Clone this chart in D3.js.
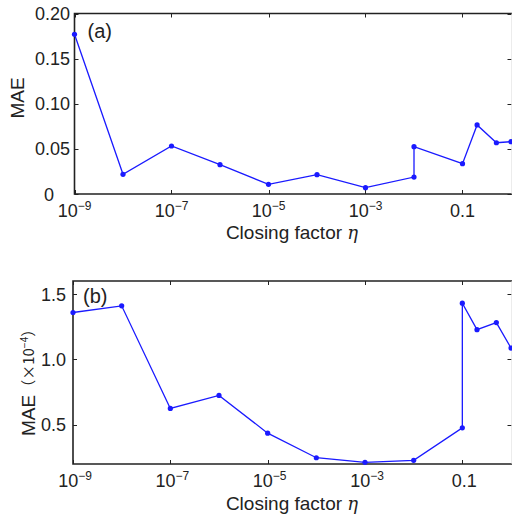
<!DOCTYPE html>
<html>
<head>
<meta charset="utf-8">
<script src="https://cdn.jsdelivr.net/npm/d3@7"></script>
<style>
  html, body { margin: 0; padding: 0; background: #fff; }
  svg { display: block; }
  text { font-family: "Liberation Sans", Arial, sans-serif; fill: #222; }
</style>
</head>
<body>
<svg id="chart" width="512" height="520"></svg>
<script>
// ---- Data ----
const etaA = [1e-9, 1e-8, 1e-7, 1e-6, 1e-5, 1e-4, 1e-3, 1e-2, 1e-2, 0.1, 0.2, 0.5, 1];
const maeA = [0.177, 0.0218, 0.0532, 0.0325, 0.0107, 0.0214, 0.007, 0.0188, 0.0524, 0.0336, 0.0765, 0.0568, 0.058];

const etaB = [1e-9, 1e-8, 1e-7, 1e-6, 1e-5, 1e-4, 1e-3, 1e-2, 0.1, 0.1, 0.2, 0.5, 1];
const maeB = [1.359, 1.41, 0.625, 0.725, 0.436, 0.248, 0.213, 0.228, 0.477, 1.43, 1.228, 1.282, 1.087];

const xTicks = [1e-9, 1e-7, 1e-5, 1e-3, 0.1];
const xTickBase = ["10", "10", "10", "10", "0.1"];
const xTickSup = ["\u22129", "\u22127", "\u22125", "\u22123", ""];

const yTicksA = [0, 0.05, 0.10, 0.15, 0.20];
const yTickLabelsA = ["0", "0.05", "0.10", "0.15", "0.20"];
const yTicksB = [0.5, 1.0, 1.5];
const yTickLabelsB = ["0.5", "1.0", "1.5"];

const xLabel = "Closing factor ";
const xLabelSym = "\u03b7";

const svg = d3.select("#chart");
const lineColor = "#1a1aff";
const axisColor = "#222";

function drawPanel(cfg) {
  const x = d3.scaleLog().domain([1e-9, 1]).range([cfg.left, cfg.right]);
  const y = d3.scaleLinear().domain(cfg.yDomain).range([cfg.bottom, cfg.top]);
  const g = svg.append("g");

  const tl = 4;
  xTicks.forEach(t => {
    const xx = Math.round(x(t)) + 0.5;
    g.append("line").attr("x1", xx).attr("x2", xx).attr("y1", cfg.bottom).attr("y2", cfg.bottom - tl)
      .attr("stroke", axisColor).attr("stroke-width", 1);
    g.append("line").attr("x1", xx).attr("x2", xx).attr("y1", cfg.top).attr("y2", cfg.top + tl)
      .attr("stroke", axisColor).attr("stroke-width", 1);
  });
  cfg.yTicks.forEach(t => {
    const yy = Math.round(y(t)) + 0.5;
    g.append("line").attr("x1", cfg.left).attr("x2", cfg.left + tl).attr("y1", yy).attr("y2", yy)
      .attr("stroke", axisColor).attr("stroke-width", 1);
    g.append("line").attr("x1", cfg.right + 0.5).attr("x2", cfg.right + 0.5 - tl).attr("y1", yy).attr("y2", yy)
      .attr("stroke", axisColor).attr("stroke-width", 1);
  });

  // box
  g.append("path")
    .attr("d", `M${cfg.right + 2},${cfg.top} H${cfg.left} V${cfg.bottom} H${cfg.right + 2}`)
    .attr("fill", "none").attr("stroke", axisColor).attr("stroke-width", 1.6);
  g.append("line").attr("x1", cfg.right + 1).attr("x2", cfg.right + 1)
    .attr("y1", cfg.top).attr("y2", cfg.bottom)
    .attr("stroke", "#d8d8d8").attr("stroke-width", 1);

  // x tick labels
  xTicks.forEach((t, i) => {
    const tx = g.append("text").attr("x", x(t) + cfg.xTickDx).attr("y", cfg.bottom + 23)
      .attr("text-anchor", "middle").attr("font-size", 18);
    tx.append("tspan").text(xTickBase[i]);
    if (xTickSup[i]) {
      tx.append("tspan").attr("font-size", 12).attr("dy", -7).text(xTickSup[i]);
    }
  });

  // y tick labels
  cfg.yTicks.forEach((t, i) => {
    const lx = (cfg.yTickLabels[i] === "0") ? cfg.zeroLabelX : cfg.yLabelX;
    g.append("text").attr("x", lx).attr("y", y(t) + 6.5)
      .attr("text-anchor", "end").attr("font-size", 18).text(cfg.yTickLabels[i]);
  });

  // x axis label
  const xl = g.append("text").attr("x", cfg.xLabelX).attr("y", cfg.bottom + cfg.xLabelDy)
    .attr("text-anchor", "middle").attr("font-size", 19);
  xl.append("tspan").text(xLabel);
  xl.append("tspan").attr("font-style", "italic").attr("font-family", "DejaVu Serif, serif").attr("font-size", 18).text(xLabelSym);

  // panel letter
  g.append("text").attr("x", cfg.left + cfg.tagDx).attr("y", cfg.tagY)
    .attr("font-size", 20).text(cfg.tag);

  // line + markers
  const pts = cfg.eta.map((e, i) => [x(e), y(cfg.mae[i])]);
  g.append("path").attr("d", d3.line()(pts))
    .attr("fill", "none").attr("stroke", lineColor).attr("stroke-width", 1.3);
  g.selectAll(null).data(pts).enter().append("circle")
    .attr("cx", d => d[0]).attr("cy", d => d[1]).attr("r", 2.6)
    .attr("fill", lineColor);

  return g;
}

const gA = drawPanel({
  left: 74.5, right: 511, top: 13.5, bottom: 194,
  yDomain: [0, 0.2], yTicks: yTicksA, yTickLabels: yTickLabelsA, yLabelX: 70, zeroLabelX: 54,
  eta: etaA, mae: maeA, tag: "(a)", tagDx: 13, tagY: 37.5,
  xLabelX: 292, xLabelDy: 45, xTickDx: 0
});
gA.append("text").attr("transform", "translate(24,98) rotate(-90)")
  .attr("text-anchor", "middle").attr("font-size", 19).text("MAE");

const gB = drawPanel({
  left: 73, right: 511, top: 281, bottom: 464,
  yDomain: [0.2, 1.6], yTicks: yTicksB, yTickLabels: yTickLabelsB, yLabelX: 66, zeroLabelX: 66,
  eta: etaB, mae: maeB, tag: "(b)", tagDx: 10, tagY: 303,
  xLabelX: 292, xLabelDy: 46, xTickDx: 2
});
const yl = gB.append("text").attr("transform", "translate(35,436) rotate(-90)")
  .attr("text-anchor", "start").attr("font-size", 19);
yl.append("tspan").text("MAE");
yl.append("tspan").attr("font-family", "Noto Sans CJK SC, sans-serif").attr("font-size", 15).attr("dy", -1).text("\uff08\u00d710");
yl.append("tspan").attr("font-size", 10).attr("dy", -6).text("\u22124");
yl.append("tspan").attr("font-family", "Noto Sans CJK SC, sans-serif").attr("font-size", 15).attr("dy", 6).text("\uff09");
</script>
</body>
</html>
